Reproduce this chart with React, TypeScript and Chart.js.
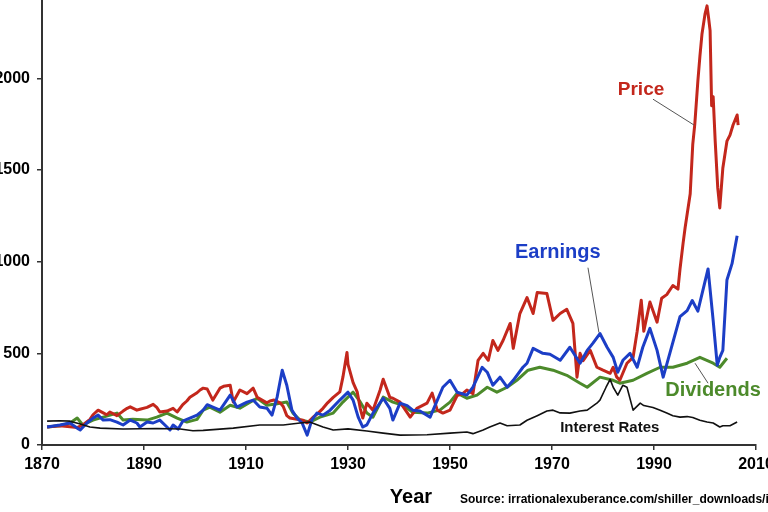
import React, { useEffect, useRef } from "react";
import { Chart, registerables } from "chart.js";

Chart.register(...registerables);

const PRICE: [number, number][] = [
  [1871, 98], [1873.5, 105], [1875.5, 100], [1876.9, 95], [1878, 110], [1879.4, 140], [1880, 165], [1881, 190],
  [1882, 175], [1882.7, 165], [1883.3, 180], [1884.7, 160], [1885.9, 185], [1886.7, 200], [1887.3, 208], [1888.6, 190],
  [1889.2, 195], [1890.6, 205], [1891.8, 222], [1892.5, 205], [1893.1, 180], [1894.5, 185], [1895.7, 200], [1896.5, 180],
  [1897.6, 220], [1898.4, 240], [1899, 260], [1900.4, 285], [1901, 300], [1901.6, 310], [1902.4, 305], [1903.5, 245],
  [1904.9, 310], [1905.6, 320], [1906.9, 326], [1907.5, 234], [1908.8, 300], [1910.2, 280], [1911.4, 310], [1912.2, 260],
  [1914.1, 230], [1914.7, 240], [1915.5, 245], [1916.7, 230], [1917.3, 210], [1918, 160], [1918.6, 147], [1920, 140],
  [1921.2, 135], [1922, 120], [1923.1, 150], [1924, 170], [1925.1, 200], [1926, 230], [1927.1, 260], [1928.4, 290],
  [1929, 370], [1929.8, 505], [1930, 440], [1931, 340], [1931.8, 290], [1932.4, 200], [1932.9, 147], [1933.7, 228],
  [1934.9, 190], [1936.3, 300], [1936.9, 359], [1938.2, 260], [1938.8, 255], [1940.2, 234], [1942.2, 152], [1943.5, 200],
  [1945.5, 228], [1946.5, 283], [1947.5, 190], [1948.6, 174], [1950, 190], [1951.4, 270], [1952.5, 280], [1953.3, 300],
  [1954.5, 280], [1955.5, 462], [1956.5, 500], [1957.5, 462], [1958.4, 570], [1959.4, 516], [1960.4, 570], [1961.8, 663],
  [1962.4, 527], [1963.7, 717], [1965.1, 804], [1966.3, 717], [1967.1, 832], [1969, 826], [1970.2, 680], [1971.6, 717],
  [1972.9, 740], [1974.1, 663], [1974.9, 370], [1975.5, 500], [1976.1, 460], [1977.5, 516], [1978.8, 424], [1980, 408],
  [1981.4, 391], [1982, 424], [1982.7, 370], [1983.3, 353], [1984.7, 446], [1985.9, 478], [1986.7, 620], [1987.5, 790],
  [1988, 620], [1989.2, 780], [1990.6, 670], [1991.5, 800], [1992.5, 820], [1993.7, 870], [1994.7, 850], [1995.1, 960],
  [1995.7, 1100], [1996.1, 1185], [1997.1, 1370], [1997.6, 1640], [1998, 1750], [1998.6, 1984], [1999, 2120],
  [1999.4, 2240], [2000, 2350], [2000.4, 2395], [2000.7, 2330], [2001, 2260], [2001.3, 1850], [2001.6, 1900], [2002, 1657],
  [2002.5, 1402], [2002.9, 1293], [2003.5, 1511], [2004.3, 1657], [2004.9, 1690], [2005.5, 1745], [2006.3, 1800], [2006.5, 1745],
];

const EARNINGS: [number, number][] = [
  [1871, 98], [1873.5, 109], [1875.5, 120], [1876.9, 92], [1877.5, 82], [1878.8, 120], [1880, 147], [1881, 163],
  [1882, 136], [1883.3, 138], [1884.7, 125], [1885.9, 109], [1887.3, 136], [1888.6, 120], [1889.2, 98], [1890.6, 125],
  [1891.8, 120], [1893.1, 136], [1894.5, 98], [1895.1, 82], [1895.7, 109], [1896.7, 87], [1897.6, 130], [1899, 147],
  [1900.4, 163], [1901.6, 190], [1902.4, 220], [1903.5, 207], [1904.9, 190], [1906.9, 272], [1908.2, 207], [1910.2, 234],
  [1911.4, 245], [1912.7, 207], [1914.1, 201], [1915.1, 163], [1916.1, 261], [1917.1, 408], [1918, 326], [1919, 190],
  [1920, 147], [1921, 120], [1922, 54], [1922.9, 136], [1923.9, 174], [1925.1, 163], [1926.5, 190], [1928.4, 245],
  [1930, 288], [1931, 245], [1932, 152], [1932.9, 98], [1933.7, 110], [1934.9, 174], [1936.9, 255], [1938.2, 200],
  [1938.8, 136], [1940.2, 228], [1941.6, 215], [1942.7, 190], [1944.1, 185], [1946.1, 152], [1947.1, 217], [1948.6, 315],
  [1950, 353], [1951.4, 288], [1953.3, 272], [1954.5, 315], [1956.3, 424], [1957.3, 397], [1958.4, 326], [1959.8, 370],
  [1961.2, 315], [1962.4, 353], [1964.3, 424], [1965.1, 446], [1966.3, 527], [1968.2, 500], [1969.6, 495], [1971.6, 462],
  [1973.5, 533], [1975.5, 446], [1976.9, 516], [1978, 554], [1979.4, 608], [1980.8, 533], [1982, 478], [1982.9, 397],
  [1983.9, 462], [1985.3, 500], [1986.7, 424], [1987.8, 533], [1989.2, 636], [1990.6, 516], [1991.8, 370], [1993.1, 500],
  [1995.1, 700], [1996.5, 733], [1997.5, 788], [1998.6, 730], [2000.6, 960], [2001.6, 680], [2002.4, 435], [2002.9, 478],
  [2003.5, 516], [2004.3, 900], [2005.3, 989], [2006.3, 1141],
];

const DIVIDENDS: [number, number][] = [
  [1871, 98], [1873.5, 105], [1875.5, 120], [1876.9, 147], [1878, 109], [1880, 136], [1882, 152], [1884.7, 174],
  [1885.9, 136], [1887.8, 140], [1890.6, 136], [1892.5, 152], [1894.5, 174], [1896.5, 147], [1898.4, 125], [1900.4, 140],
  [1901.6, 190], [1902.9, 207], [1904.9, 179], [1906.9, 217], [1908.8, 201], [1910.8, 234], [1912.2, 255], [1914.1, 217],
  [1916.1, 225], [1918, 234], [1919.2, 174], [1920.6, 136], [1922.5, 125], [1924.5, 152], [1927.1, 174], [1929, 234],
  [1931, 288], [1932.4, 235], [1933.7, 174], [1934.9, 152], [1936.9, 261], [1938.8, 234], [1940.8, 217], [1942.7, 179],
  [1945.5, 174], [1948, 190], [1950, 234], [1951.4, 283], [1953.3, 255], [1955.3, 272], [1957.3, 315], [1959.2, 288],
  [1961.2, 315], [1963.1, 353], [1965.3, 408], [1967.6, 424], [1970.2, 408], [1972.9, 380], [1975.5, 337], [1976.9, 315],
  [1979.4, 370], [1982, 353], [1983.3, 337], [1985.9, 353], [1988.6, 391], [1991.2, 424], [1993.7, 424], [1996.5, 446],
  [1999, 478], [2001.6, 446], [2002.9, 424], [2004.3, 473],
];

const INTEREST_RATES: [number, number][] = [
  [1871, 130], [1873.5, 132], [1875.5, 130], [1877.5, 114], [1879.4, 98], [1881.4, 92], [1885.9, 87], [1892.5, 90],
  [1897.1, 87], [1899.6, 78], [1901.6, 80], [1907.5, 92], [1912.7, 109], [1917.3, 109], [1920.6, 120], [1922.5, 125],
  [1925.1, 98], [1927.1, 82], [1930, 88], [1933.7, 76], [1936.9, 65], [1940.2, 54], [1945.5, 56], [1950, 65],
  [1953.3, 71], [1954.5, 62], [1956.5, 82], [1957.8, 98], [1959.8, 120], [1961.2, 105], [1963.7, 109], [1965.1, 135],
  [1967.1, 160], [1969, 185], [1970.2, 190], [1971.6, 175], [1973.5, 174], [1975.5, 185], [1976.9, 190], [1978.8, 228],
  [1979.4, 245], [1980.6, 315], [1981.4, 358], [1982, 315], [1982.9, 272], [1983.9, 326], [1984.7, 315], [1985.9, 190],
  [1987.3, 228], [1988, 215], [1989.8, 205], [1991.2, 190], [1992.5, 174], [1993.7, 160], [1995.1, 152], [1996.5, 155],
  [1997.6, 150], [1999, 135], [2000.4, 125], [2001.6, 120], [2002.9, 98], [2003.5, 105], [2004.9, 105], [2006.3, 125],
];

const X_MIN = 1870;
const X_MAX = 2010;
const X_STEP = 20;
const Y_MIN = 0;
const Y_MAX = 2500;
const Y_STEP = 500;

const SERIES_NAMES = ["Price", "Earnings", "Dividends", "Interest Rates"];
const X_TITLE = "Year";
const SOURCE_TEXT = "Source: irrationalexuberance.com/shiller_downloads/ie_data.xls";

const RED = "#c3271c";
const BLUE = "#1c3ec6";
const GREEN = "#4c8a2b";
const BLACK = "#111111";
const FONT = "'Liberation Sans', Arial, sans-serif";

// label anchors in data units (year, value)
const SERIES_LABELS = [
  { text: SERIES_NAMES[0], x: 1982.9, y: 1908, color: RED, size: 19 },
  { text: SERIES_NAMES[1], x: 1962.75, y: 1022, color: BLUE, size: 20 },
  { text: SERIES_NAMES[2], x: 1992.2, y: 266, color: GREEN, size: 20 },
  { text: SERIES_NAMES[3], x: 1971.6, y: 71, color: BLACK, size: 15 },
];
const LEADERS: [number, number, number, number][] = [
  [1989.8, 1886, 1997.85, 1745],
  [1977.05, 967, 1979.2, 614],
  [1998.05, 446, 2000.6, 337],
];

const toPts = (arr: [number, number][]) => arr.map(([x, y]) => ({ x, y }));

const annotationPlugin = {
  id: "annotations",
  afterDatasetsDraw(chart: any) {
    const { ctx, scales, chartArea } = chart;
    const xs = scales.x;
    const ys = scales.y;
    ctx.save();
    ctx.strokeStyle = "#555";
    ctx.lineWidth = 1;
    for (const [x1, y1, x2, y2] of LEADERS) {
      ctx.beginPath();
      ctx.moveTo(xs.getPixelForValue(x1), ys.getPixelForValue(y1));
      ctx.lineTo(xs.getPixelForValue(x2), ys.getPixelForValue(y2));
      ctx.stroke();
    }
    ctx.textAlign = "left";
    ctx.textBaseline = "alphabetic";
    for (const l of SERIES_LABELS) {
      ctx.font = `bold ${l.size}px ${FONT}`;
      ctx.fillStyle = l.color;
      ctx.fillText(l.text, xs.getPixelForValue(l.x), ys.getPixelForValue(l.y));
    }
    const baseY = chartArea.bottom + 58;
    ctx.fillStyle = "#000";
    ctx.font = `bold 20px ${FONT}`;
    ctx.textAlign = "center";
    ctx.fillText(X_TITLE, xs.getPixelForValue(1942.35), baseY);
    ctx.font = `bold 12px ${FONT}`;
    ctx.textAlign = "left";
    ctx.fillText(SOURCE_TEXT, xs.getPixelForValue(1951.96), baseY);
    ctx.restore();
  },
};

export default function App() {
  const ref = useRef<HTMLCanvasElement | null>(null);
  useEffect(() => {
    if (!ref.current) return;
    const line = (label: string, data: [number, number][], color: string, w: number) => ({
      label,
      data: toPts(data),
      borderColor: color,
      backgroundColor: color,
      borderWidth: w,
      pointRadius: 0,
      tension: 0,
      fill: false,
      borderJoinStyle: "round" as const,
    });
    const chart = new Chart(ref.current, {
      type: "line",
      data: {
        datasets: [
          line(SERIES_NAMES[3], INTEREST_RATES, BLACK, 1.6),
          line(SERIES_NAMES[1], EARNINGS, BLUE, 3),
          line(SERIES_NAMES[0], PRICE, RED, 3),
          line(SERIES_NAMES[2], DIVIDENDS, GREEN, 3),
        ],
      },
      options: {
        animation: false,
        responsive: false,
        devicePixelRatio: 1,
        layout: { padding: { top: 15, right: 44, bottom: 0, left: 0 } },
        plugins: { legend: { display: false }, tooltip: { enabled: false } },
        scales: {
          x: {
            type: "linear",
            min: X_MIN,
            max: X_MAX,
            afterFit: (s: any) => { s.height = 67; },
            ticks: {
              stepSize: X_STEP,
              color: "#000",
              padding: 5,
              maxRotation: 0,
              font: { family: FONT, size: 16, weight: "bold" },
              callback: (v: any) => String(v),
            },
            grid: { drawOnChartArea: false, drawTicks: true, tickLength: 5, color: "#333", lineWidth: 1.5 },
            border: { display: true, color: "#333", width: 2 },
          },
          y: {
            type: "linear",
            min: Y_MIN,
            max: Y_MAX,
            afterFit: (s: any) => { s.width = 82; },
            ticks: {
              stepSize: Y_STEP,
              color: "#000",
              padding: 7,
              font: { family: FONT, size: 16, weight: "bold" },
              callback: (v: any) => String(v),
            },
            grid: { drawOnChartArea: false, drawTicks: true, tickLength: 5, color: "#333", lineWidth: 1.5 },
            border: { display: true, color: "#333", width: 2 },
          },
        },
      },
      plugins: [annotationPlugin],
    });
    return () => chart.destroy();
  }, []);
  return (
    <div style={{ position: "fixed", left: -40, top: -30, width: 840, height: 542, background: "#fff" }}>
      <canvas ref={ref} width={840} height={542} style={{ display: "block" }} />
    </div>
  );
}
